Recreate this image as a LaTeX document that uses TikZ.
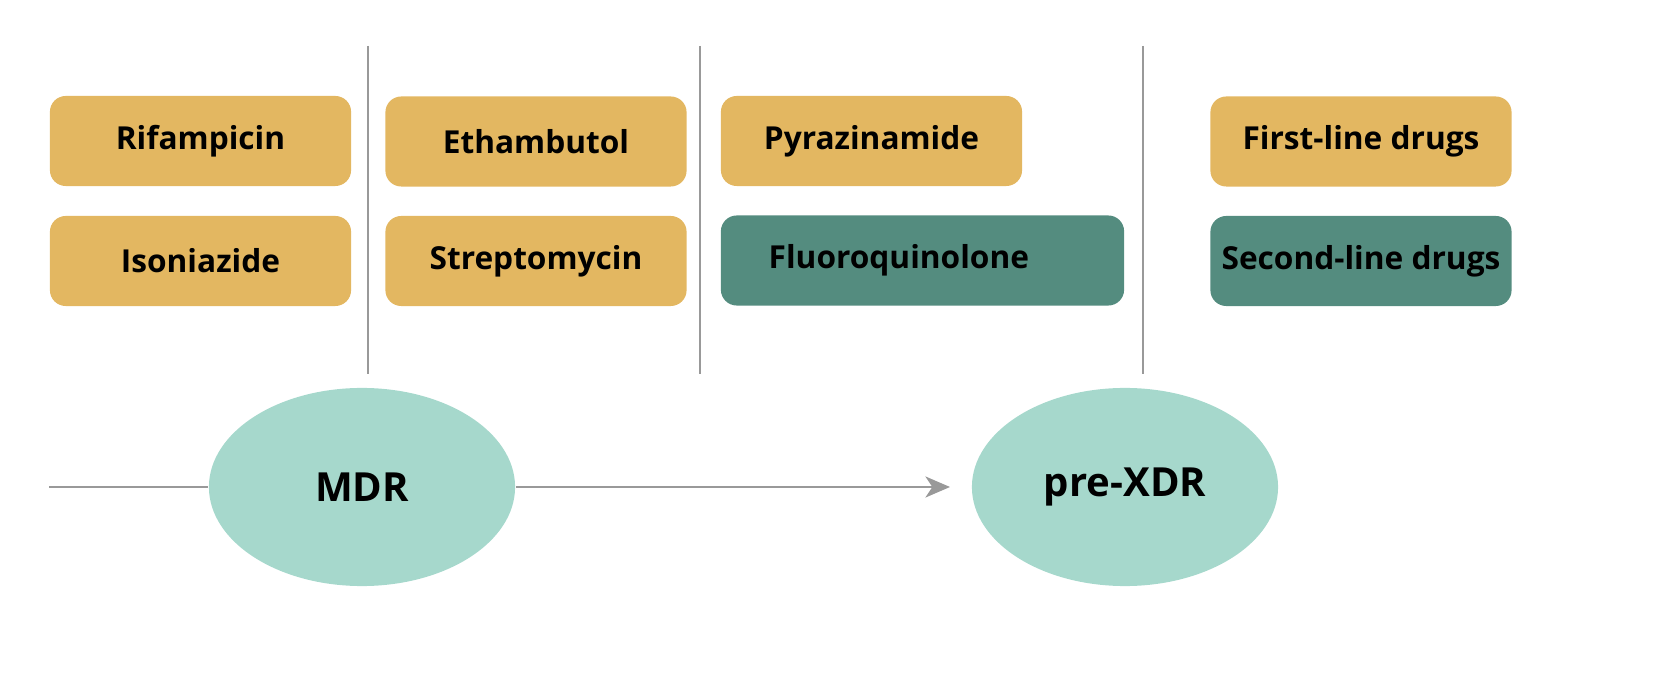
\documentclass[tikz,border=0pt]{standalone}
\usepackage{fontspec}
\setmainfont{Open Sans}
\usetikzlibrary{shapes.geometric,arrows.meta}
\definecolor{gold}{HTML}{E3B761}
\definecolor{darkgreen}{HTML}{548C7F}
\definecolor{lightteal}{HTML}{A6D8CC}
\definecolor{sepgrey}{HTML}{999999}
\tikzset{
  drug/.style={rounded corners=4.5pt, minimum width=3.01cm, minimum height=0.9cm, font=\bfseries\fontsize{9}{11}\selectfont, inner sep=0pt},
  first/.style={drug, fill=gold},
  second/.style={drug, fill=darkgreen},
  stage/.style={ellipse, fill=lightteal, minimum width=3.06cm, minimum height=1.98cm, font=\bfseries\fontsize{11.4}{13}\selectfont},
  sep/.style={draw=sepgrey, line width=0.6pt}
}
\begin{document}
\begin{tikzpicture}[x=0.01cm,y=-0.01cm]
\useasboundingbox (0,0) rectangle (1653,691);
% drug boxes
\node[first] (rif) at (200.5,141) {Rifampicin};
\node[first] (inh) at (200.5,261) {Isoniazide};
\node[first] (emb) at (536,141.5) {Ethambutol};
\node[first] (sm) at (536,261) {Streptomycin};
\node[first] (pza) at (871.5,141) {Pyrazinamide};
\node[second, minimum width=4.03cm] (fq) at (922.5,260.5) {};
\node[anchor=west, font=\bfseries\fontsize{9}{11}\selectfont, inner sep=0pt] (fqtext) at (768,260.5) {Fluoroquinolone};
\node[first] (fld) at (1361,141.5) {First-line drugs};
\node[second] (sld) at (1361,261) {Second-line drugs};
% separators
\draw[sep] (368,46) -- (368,374);
\draw[sep] (700,46) -- (700,374);
\draw[sep] (1143,46) -- (1143,374);
% stages
\node[stage] (mdr) at (362,487) {MDR};
\node[stage] (xdr) at (1125,487) {pre-XDR};
\coordinate (start) at (49,487);
\coordinate (tip) at (950,487);
\draw[sep] (start) -- (mdr.west);
\draw[sep, -{Stealth[length=7pt,width=6pt,inset=2pt]}] (mdr.east) -- (tip);
\end{tikzpicture}
\end{document}
